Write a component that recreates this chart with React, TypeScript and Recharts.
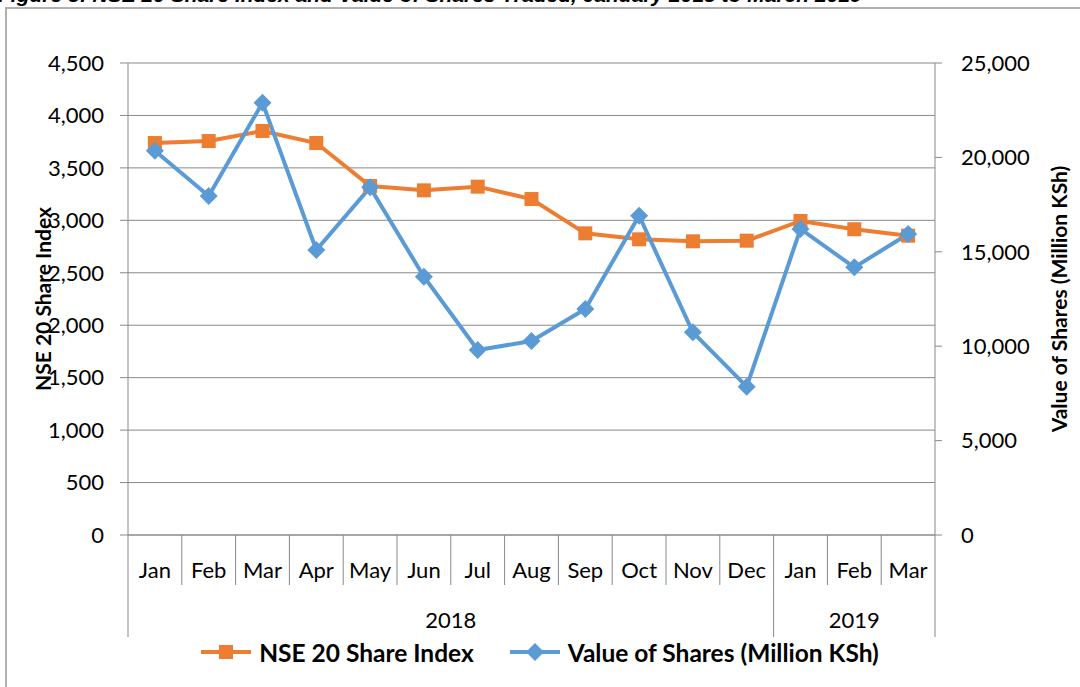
import React from "react";
import { CartesianGrid, Legend, Line, LineChart, XAxis, YAxis } from "recharts";

const months = ["Jan", "Feb", "Mar", "Apr", "May", "Jun", "Jul", "Aug", "Sep", "Oct", "Nov", "Dec", "Jan", "Feb", "Mar"];
const years = ["2018", "2018", "2018", "2018", "2018", "2018", "2018", "2018", "2018", "2018", "2018", "2018", "2019", "2019", "2019"];
const nseIndex = [3737, 3756, 3852, 3737, 3327, 3286, 3321, 3203, 2876, 2819, 2800, 2806, 2994, 2915, 2854];
const shareValue = [20355, 17956, 22899, 15095, 18414, 13683, 9799, 10275, 11970, 16913, 10734, 7857, 16208, 14177, 15943];
const leftTicks = [0, 500, 1000, 1500, 2000, 2500, 3000, 3500, 4000, 4500];
const rightTicks = [0, 5000, 10000, 15000, 20000, 25000];

const data = months.map((month, i) => ({
  month,
  year: years[i],
  nse: nseIndex[i],
  value: shareValue[i],
}));

const W = 1080;
const H = 687;
const LEFT_W = 128;
const RIGHT_W = 145;
const BAND = (W - LEFT_W - RIGHT_W) / months.length;
const GRAY = "#898989";
const ORANGE = "#ED7D31";
const BLUE = "#5B9BD5";
const FONT = "Lato, 'Open Sans', sans-serif";

const fmt = (v: number) => v.toLocaleString("en-US");

const MonthTick = (props: any) => {
  const { x, y, payload } = props;
  const i = payload.index;
  const left = x - BAND / 2;
  const right = x + BAND / 2;
  const newYear = i === 0 || years[i] !== years[i - 1];
  const count = years.filter((yy) => yy === years[i]).length;
  return (
    <g>
      <line x1={left} x2={left} y1={y} y2={y + (newYear ? 102 : 50)} stroke={GRAY} />
      {i === months.length - 1 && <line x1={right} x2={right} y1={y} y2={y + 102} stroke={GRAY} />}
      <text x={x} y={y + 34} textAnchor="middle" dominantBaseline="central" fontSize={22} fontFamily={FONT} fill="#000">
        {payload.value}
      </text>
      {newYear && (
        <text x={left + (count * BAND) / 2} y={y + 84} textAnchor="middle" dominantBaseline="central" fontSize={22} fontFamily={FONT} fill="#000">
          {years[i]}
        </text>
      )}
    </g>
  );
};

const Square = (props: any) => {
  const { cx, cy } = props;
  return <rect x={cx - 7} y={cy - 7} width={14} height={14} fill={ORANGE} />;
};

const Diamond = (props: any) => {
  const { cx, cy } = props;
  return <polygon points={`${cx},${cy - 9} ${cx + 9},${cy} ${cx},${cy + 9} ${cx - 9},${cy}`} fill={BLUE} />;
};

const LegendContent = (props: any) => {
  const items = props.payload || [];
  return (
    <div style={{ display: "flex", justifyContent: "center", alignItems: "center", height: 30, gap: 36 }}>
      {items.map((it: any) => (
        <div key={it.value} style={{ display: "flex", alignItems: "center" }}>
          <svg width={50} height={20}>
            <line x1={0} x2={50} y1={10} y2={10} stroke={it.color} strokeWidth={4} />
            {it.dataKey === "nse" ? (
              <rect x={18} y={3} width={14} height={14} fill={it.color} />
            ) : (
              <polygon points="25,1 34,10 25,19 16,10" fill={it.color} />
            )}
          </svg>
          <span style={{ marginLeft: 8, fontFamily: FONT, fontWeight: 700, fontSize: 24.5, color: "#000" }}>{it.value}</span>
        </div>
      ))}
    </div>
  );
};

export default function App() {
  return (
    <div style={{ position: "fixed", left: 0, top: 0, width: W, height: H, overflow: "hidden", background: "#fff" }}>
      <div
        style={{
          position: "absolute",
          left: -2,
          top: -17,
          whiteSpace: "nowrap",
          fontFamily: "'Liberation Sans', Arial, sans-serif",
          fontWeight: 700,
          fontStyle: "italic",
          fontSize: 21,
          lineHeight: "24px",
        }}
      >
        Figure 8: NSE 20 Share Index and Value of Shares Traded, January 2018 to March 2019
      </div>
      <div style={{ position: "absolute", left: 5, top: 7, width: 1120, height: 720, border: "2px solid #b0b0b0" }} />
      <div style={{ position: "absolute", left: 0, top: 0 }}>
        <LineChart width={W} height={H} data={data} margin={{ top: 63, right: 0, bottom: 20, left: 0 }}>
          <CartesianGrid yAxisId="left" vertical={false} stroke={GRAY} />
          <XAxis
            dataKey="month"
            height={102}
            interval={0}
            padding={{ left: BAND / 2, right: BAND / 2 }}
            tickSize={0}
            tickMargin={0}
            tickLine={false}
            axisLine={{ stroke: GRAY }}
            tick={<MonthTick />}
          />
          <YAxis
            yAxisId="left"
            domain={[0, 4500]}
            ticks={leftTicks}
            width={LEFT_W}
            tickFormatter={fmt}
            tickSize={8}
            tickMargin={16}
            axisLine={{ stroke: GRAY }}
            tickLine={{ stroke: GRAY }}
            tick={{ fontSize: 22, fontFamily: FONT, fill: "#000" }}
            label={{
              content: ({ viewBox }: any) => (
                <text
                  transform={`translate(${viewBox.x + 42}, ${viewBox.y + viewBox.height / 2}) rotate(-90)`}
                  textAnchor="middle"
                  dominantBaseline="central"
                  fontFamily={FONT}
                  fontWeight={700}
                  fontSize={21}
                  fill="#000"
                >
                  NSE 20 Share Index
                </text>
              ),
            }}
          />
          <YAxis
            yAxisId="right"
            orientation="right"
            domain={[0, 25000]}
            ticks={rightTicks}
            width={RIGHT_W}
            tickFormatter={fmt}
            tickSize={7}
            tickMargin={19}
            axisLine={{ stroke: GRAY }}
            tickLine={{ stroke: GRAY }}
            tick={{ fontSize: 22, fontFamily: FONT, fill: "#000" }}
            label={{
              content: ({ viewBox }: any) => (
                <text
                  transform={`translate(${viewBox.x + 123}, ${viewBox.y + viewBox.height / 2}) rotate(-90)`}
                  textAnchor="middle"
                  dominantBaseline="central"
                  fontFamily={FONT}
                  fontWeight={700}
                  fontSize={21}
                  fill="#000"
                >
                  Value of Shares (Million KSh)
                </text>
              ),
            }}
          />
          <Legend verticalAlign="bottom" content={<LegendContent />} />
          <Line
            yAxisId="left"
            type="linear"
            dataKey="nse"
            name="NSE 20 Share Index"
            stroke={ORANGE}
            strokeWidth={4}
            dot={<Square />}
            activeDot={false}
            isAnimationActive={false}
          />
          <Line
            yAxisId="right"
            type="linear"
            dataKey="value"
            name="Value of Shares (Million KSh)"
            stroke={BLUE}
            strokeWidth={4}
            dot={<Diamond />}
            activeDot={false}
            isAnimationActive={false}
          />
        </LineChart>
      </div>
    </div>
  );
}
